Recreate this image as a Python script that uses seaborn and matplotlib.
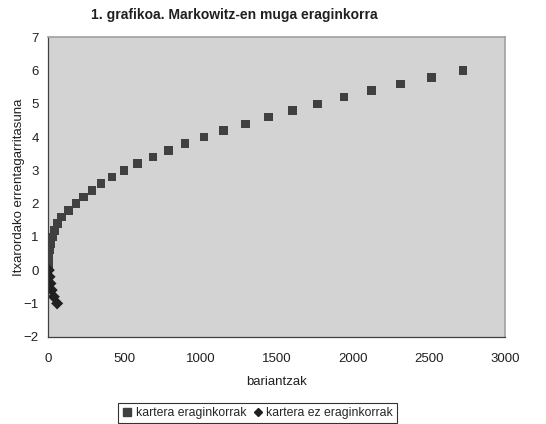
import matplotlib
matplotlib.use("Agg")
import matplotlib.pyplot as plt
from matplotlib.lines import Line2D
import seaborn as sns
import pandas as pd

# Efficient portfolios (variance, expected return)
eff_var = [2, 4, 8, 16, 27, 42, 62, 88, 132, 182, 230, 286, 347, 419, 496,
           584, 687, 789, 899, 1024, 1151, 1294, 1445, 1603, 1768, 1943,
           2123, 2312, 2518, 2724]
eff_ret = [0.2, 0.4, 0.6, 0.8, 1.0, 1.2, 1.4, 1.6, 1.8, 2.0, 2.2, 2.4, 2.6,
           2.8, 3.0, 3.2, 3.4, 3.6, 3.8, 4.0, 4.2, 4.4, 4.6, 4.8, 5.0, 5.2,
           5.4, 5.6, 5.8, 6.0]
# Inefficient portfolios
ineff_var = [3, 8, 14, 22, 36, 58]
ineff_ret = [0.0, -0.2, -0.4, -0.6, -0.8, -1.0]

labels = ["kartera eraginkorrak", "kartera ez eraginkorrak"]
x_ticks = [0, 500, 1000, 1500, 2000, 2500, 3000]
y_ticks = [-2, -1, 0, 1, 2, 3, 4, 5, 6, 7]

df = pd.concat([
    pd.DataFrame({"var": eff_var, "ret": eff_ret, "serie": labels[0]}),
    pd.DataFrame({"var": ineff_var, "ret": ineff_ret, "serie": labels[1]}),
], ignore_index=True)

sns.set_style("white")
plt.rcParams["font.family"] = ["Liberation Sans", "DejaVu Sans"]

fig = plt.figure(figsize=(5.46, 4.24), dpi=100)
ax = fig.add_axes([0.0885, 0.206, 0.8365, 0.706])
ax.set_facecolor("#d3d3d3")

sns.scatterplot(data=df, x="var", y="ret", hue="serie", style="serie",
                palette={labels[0]: "#404040", labels[1]: "#202020"},
                markers={labels[0]: "s", labels[1]: "D"},
                s=38, linewidth=0, ax=ax, legend=False)

ax.set_xlim(0, 3000)
ax.set_ylim(-2, 7)
ax.set_xticks(x_ticks)
ax.set_yticks(y_ticks)
ax.tick_params(axis="both", direction="out", length=4, width=0.8,
               color="#404040", labelsize=9.5, labelcolor="#202020", pad=3)
ax.tick_params(axis="x", pad=8)
for side in ["left", "bottom"]:
    ax.spines[side].set_color("#404040")
    ax.spines[side].set_linewidth(0.9)
for side in ["top", "right"]:
    ax.spines[side].set_color("#a0a0a0")
    ax.spines[side].set_linewidth(1.2)

ax.set_xlabel("bariantzak", fontsize=9.5, color="#202020", labelpad=8)
ax.set_ylabel("Itxarordako errentagarritasuna", fontsize=9.5,
              color="#202020", labelpad=-1)
fig.text(0.43, 0.965, "1. grafikoa. Markowitz-en muga eraginkorra",
         ha="center", va="center", fontsize=10, fontweight="bold",
         color="#202020")

handles = [Line2D([], [], marker="s", color="#404040", ls="", markersize=5.5),
           Line2D([], [], marker="D", color="#202020", ls="", markersize=4.5)]
leg = fig.legend(handles, labels, loc="center", bbox_to_anchor=(0.472, 0.026),
                 ncol=2, fontsize=8.8, frameon=True, fancybox=False,
                 edgecolor="black", handlelength=0.8, handletextpad=0.3,
                 columnspacing=0.5, borderpad=0.35)
leg.get_frame().set_linewidth(0.8)

fig.savefig("out.png", dpi=100)
